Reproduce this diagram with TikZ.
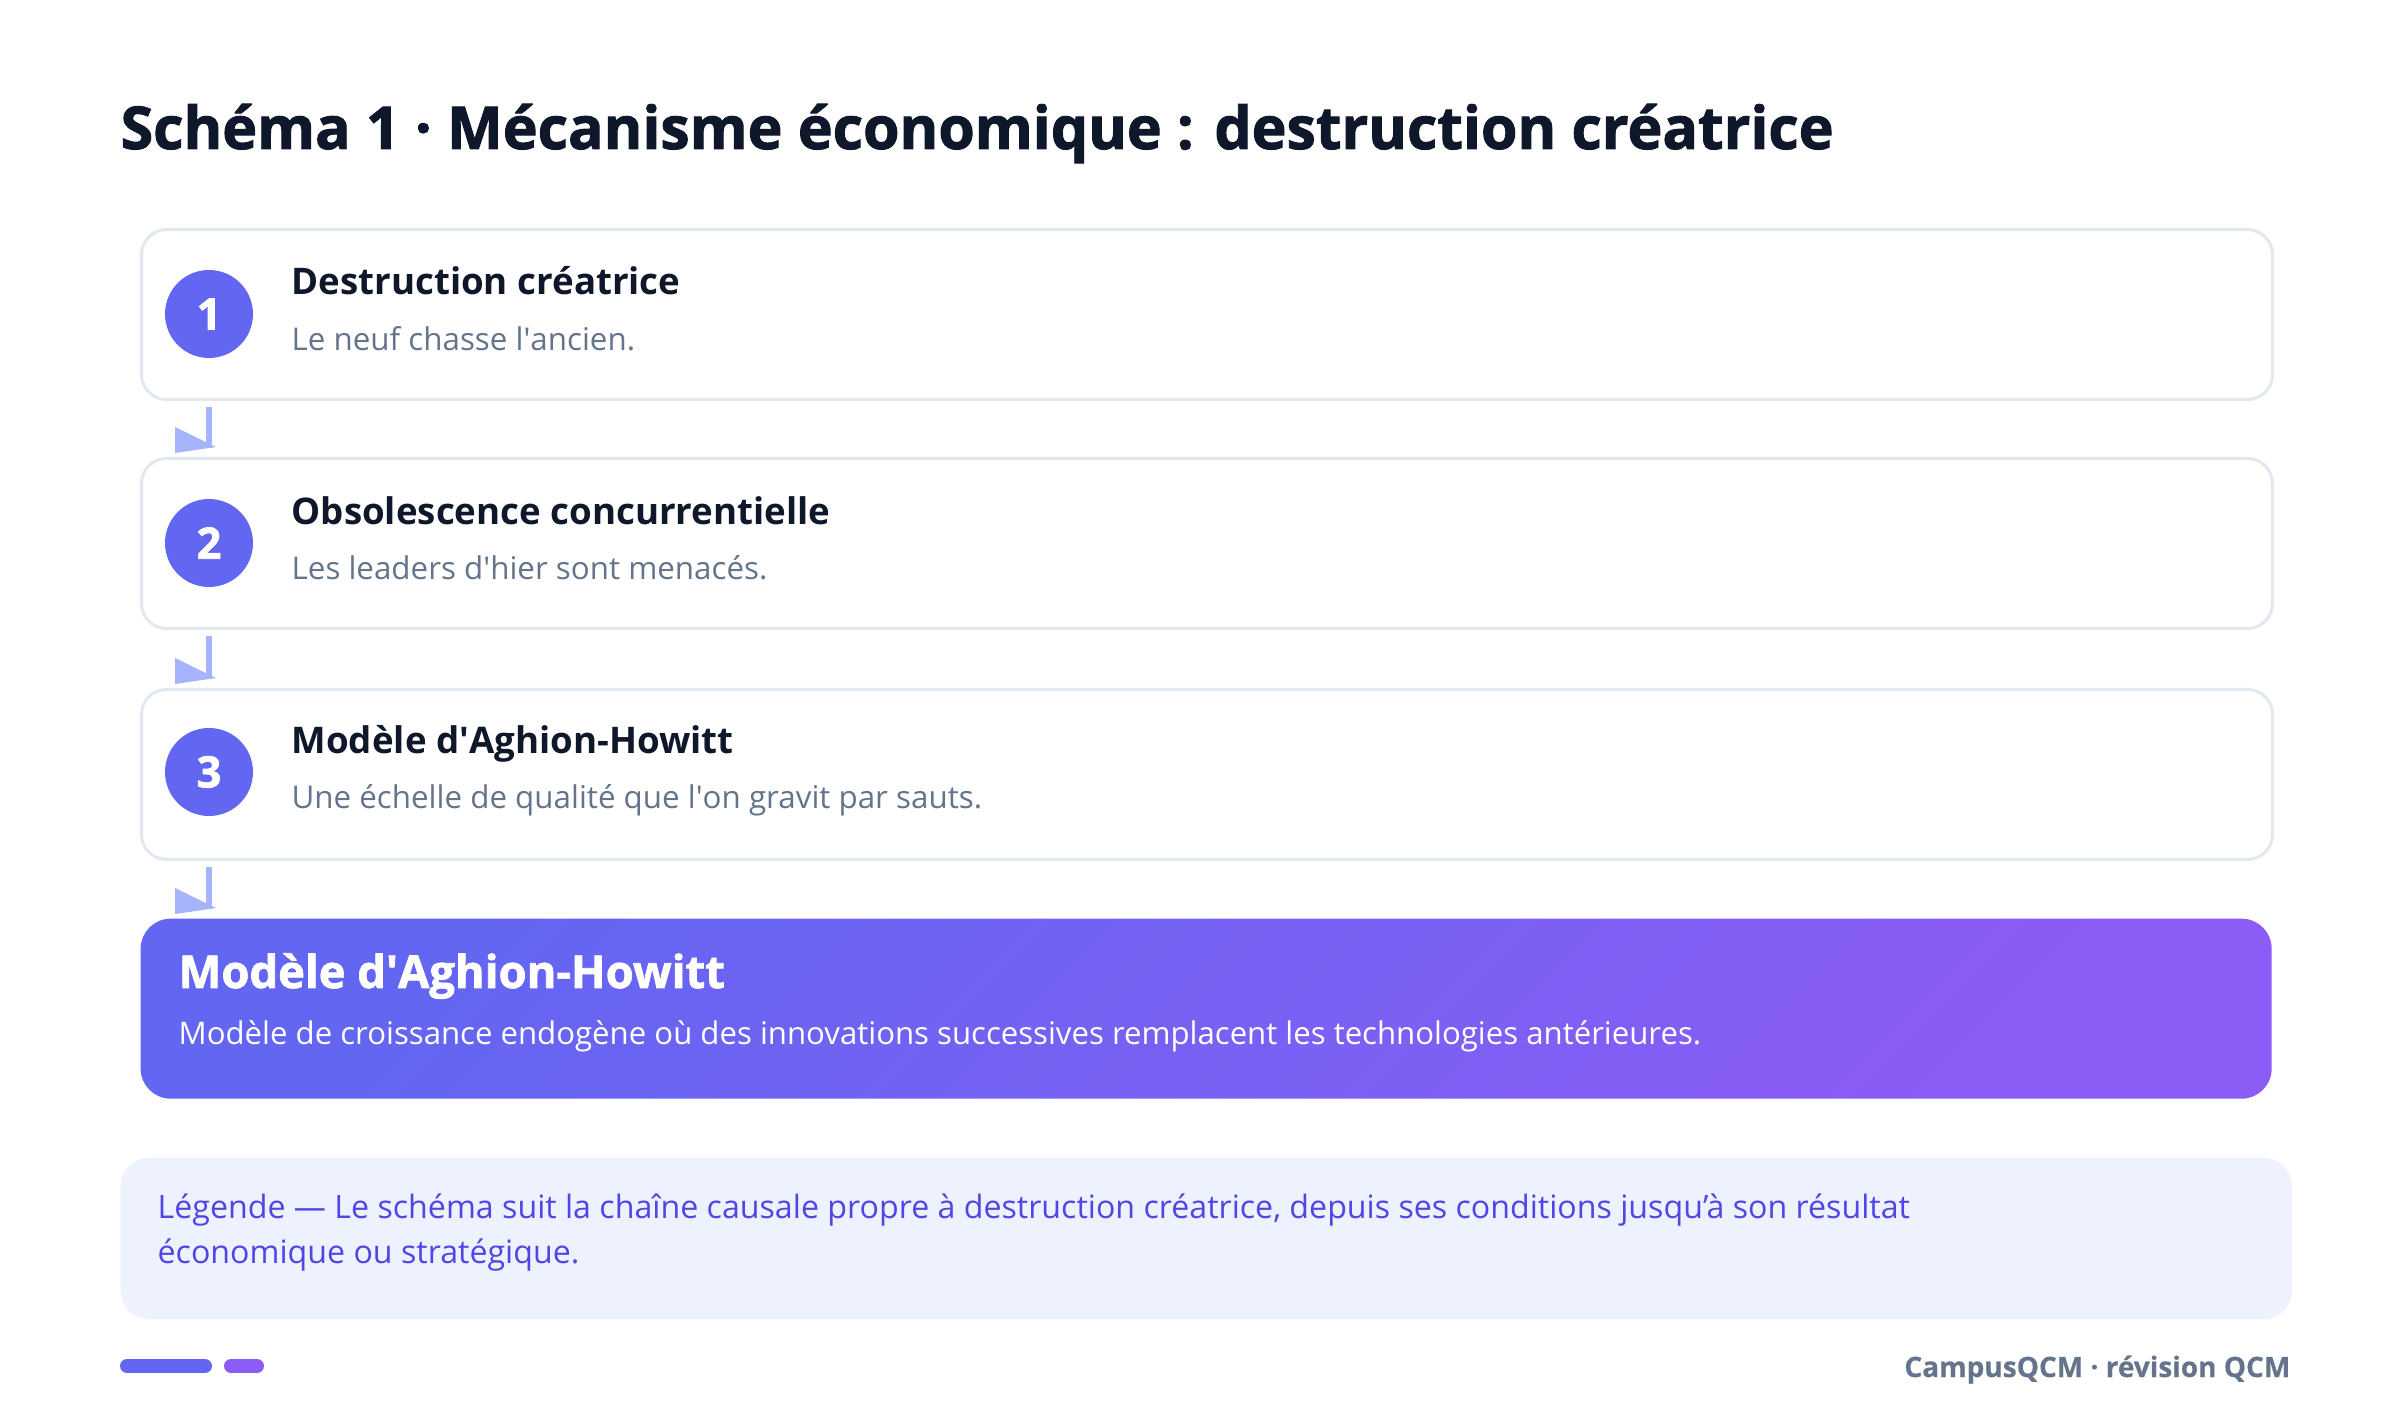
\documentclass[tikz,border=0pt]{standalone}
\usepackage{fontspec}
\setmainfont{Open Sans}
\newfontfamily\heavyfont{Open Sans}[BoldFeatures={FakeBold=1.6}]
\newfontfamily\semifont{Open Sans}[BoldFeatures={FakeBold=0.4}]
\usetikzlibrary{calc}
\definecolor{ink}{HTML}{0F172A}
\definecolor{cardline}{HTML}{E2E8F0}
\definecolor{indigo}{HTML}{6366F1}
\definecolor{violet}{HTML}{8B5CF6}
\definecolor{slate}{HTML}{64748B}
\definecolor{arrowc}{HTML}{A5B4FC}
\definecolor{legbg}{HTML}{EEF2FF}
\definecolor{legtx}{HTML}{4F46E5}
\newcommand{\apos}{\textquotesingle}
\begin{document}
\begin{tikzpicture}[x=0.3pt,y=-0.3pt,
  card/.style={draw=cardline, line width=0.9pt, fill=white, rounded corners=7.5pt,
    minimum width=639.3pt, minimum height=51pt, inner sep=0pt, anchor=north west},
  num/.style={circle, fill=indigo, minimum size=26.4pt, inner sep=0pt, text=white,
    font=\fontsize{13}{15}\selectfont\heavyfont\bfseries},
  ttl/.style={anchor=base west, inner sep=0pt, text=ink, font=\fontsize{11}{13}\selectfont\bfseries},
  sub/.style={anchor=base west, inner sep=0pt, text=slate, font=\fontsize{9.4}{11}\selectfont},
  conn/.style={draw=arrowc, line width=1.8pt},
  tip/.style={fill=arrowc}
]
\useasboundingbox (0,0) rectangle (2400,1420);
\fill[white] (0,0) rectangle (2400,1420);

\node[anchor=base west, inner sep=0pt, text=ink, font=\fontsize{17.7}{20}\selectfont\heavyfont\bfseries] (title) at (120,149)
  {Schéma 1 · Mécanisme économique : destruction créatrice};

% cards
\node[card] (b1) at (140,228) {};
\node[card] (b2) at (140,457) {};
\node[card] (b3) at (140,688) {};

\node[num] (c1) at (209,314) {1};
\node[num] (c2) at (209,543) {2};
\node[num] (c3) at (209,772) {3};

\node[ttl] (t1) at (291,295) {Destruction créatrice};
\node[sub] (s1) at (291,351) {Le neuf chasse l\apos ancien.};
\node[ttl] (t2) at (291,525) {Obsolescence concurrentielle};
\node[sub] (s2) at (291,580) {Les leaders d\apos hier sont menacés.};
\node[ttl] (t3) at (291,754) {Modèle d\apos Aghion-Howitt};
\node[sub] (s3) at (291,809) {Une échelle de qualité que l\apos on gravit par sauts.};

% result box
\node[anchor=north west, minimum width=639.3pt, minimum height=54pt, inner sep=0pt,
  rounded corners=9pt, top color=indigo, bottom color=violet, shading angle=45] (p) at (140,918) {};
\node[anchor=base west, inner sep=0pt, text=white, font=\fontsize{13.6}{16}\selectfont\heavyfont\bfseries] (pt) at (178,988) {Modèle d\apos Aghion-Howitt};
\node[anchor=base west, inner sep=0pt, text=white, font=\fontsize{9.35}{11}\selectfont] (pd) at (178,1045)
  {Modèle de croissance endogène où des innovations successives remplacent les technologies antérieures.};

% connectors
\foreach \a/\b in {b1/b2, b2/b3, b3/p}{
  \draw[conn] ($(c1 |- \a.south)+(0,6)$) -- ($(c1 |- \b.north)+(0,-9)$);
  \fill[tip] ($(c1 |- \b.north)+(-34,-30)$) -- ($(c1 |- \b.north)+(-34,-4)$) -- ($(c1 |- \b.north)+(7,-10)$) -- cycle;
}

% legend
\node[anchor=north west, minimum width=651.3pt, minimum height=48.5pt, inner sep=0pt,
  rounded corners=8.5pt, fill=legbg] (leg) at (120,1157) {};
\node[anchor=base west, inner sep=0pt, text=legtx, font=\fontsize{9.65}{11}\selectfont] (l1) at (157,1218)
  {Légende — Le schéma suit la chaîne causale propre à destruction créatrice, depuis ses conditions jusqu’à son résultat};
\node[anchor=base west, inner sep=0pt, text=legtx, font=\fontsize{9.65}{11}\selectfont] (l2) at (157,1263)
  {économique ou stratégique.};

% footer
\draw[indigo, line width=4.2pt, line cap=round] (127,1366) -- (205,1366);
\draw[violet, line width=4.2pt, line cap=round] (231,1366) -- (257,1366);
\node[anchor=base east, inner sep=0pt, text=slate, font=\fontsize{8.4}{10}\selectfont\semifont\bfseries] (foot) at (2291,1377)
  {CampusQCM · révision QCM};
\end{tikzpicture}
\end{document}
